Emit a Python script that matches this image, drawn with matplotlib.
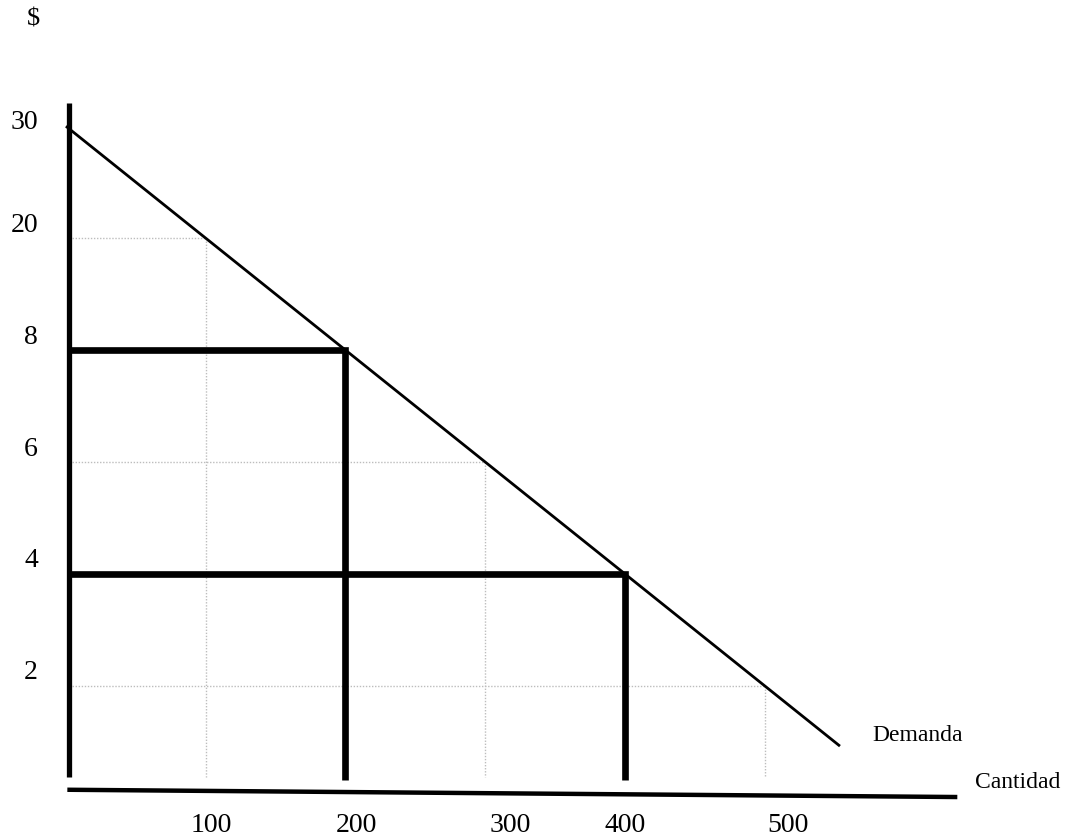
import numpy as np
import matplotlib
matplotlib.use("Agg")
import matplotlib.pyplot as plt

# data: price and quantity levels as labelled on the axes
price_ticks = [2, 4, 6, 8, 20, 30]
qty_ticks = [100, 200, 300, 400, 500]

# demand curve passes through these (quantity, price) pairs
demand_q = [0, 100, 200, 300, 400, 500]
demand_p = [30, 20, 8, 6, 4, 2]

# the two price levels drawn with bold lines and the quantity demanded
bold_p = [8, 4]
bold_q = [200, 400]

# points on the demand curve dropped to the axes with dotted guides
guide_q = [100, 300, 500]
guide_p = [20, 6, 2]

# the axis labels are not to scale, so each level sits at an even step
ppos = {v: i + 1 for i, v in enumerate(price_ticks)}
qpos = {v: i + 1 for i, v in enumerate(qty_ticks)}
qpos[0] = 0

plt.rcParams['font.family'] = ['Liberation Serif', 'DejaVu Serif']

fig = plt.figure(figsize=(10.73, 8.4), dpi=100)
ax = fig.add_axes([0, 0, 1, 1])
ax.set_xlim(-0.472, 7.208)
ax.set_ylim(-0.379, 7.128)
ax.axis('off')

floor = 0.18   # where the verticals stop above the quantity axis

# dotted guides
for q, p in zip(guide_q, guide_p):
    x, y = qpos[q], ppos[p]
    ax.plot([0.02, x], [y, y], color='#bdbdbd', lw=1.0, ls=(0, (1, 1.2)), zorder=1)
    ax.plot([x, x], [y, floor], color='#bdbdbd', lw=1.0, ls=(0, (1, 1.2)), zorder=1)

# demand curve, extended a little past the last labelled quantity
dx = np.array([qpos[q] for q in demand_q], dtype=float)
dy = np.array([ppos[p] for p in demand_p], dtype=float)
slope = (dy[-1] - dy[-2]) / (dx[-1] - dx[-2])
ext = 0.54
dx = np.append(dx, dx[-1] + ext)
dy = np.append(dy, dy[-1] + slope * ext)
ax.plot(dx, dy, color='black', lw=2.0, zorder=3, solid_capstyle='butt')

# bold price lines and the quantities they meet
for p, q in zip(bold_p, bold_q):
    x, y = qpos[q], ppos[p]
    ax.plot([0.02, x, x], [y, y, floor - 0.02], color='black', lw=4.8,
            solid_joinstyle='miter', solid_capstyle='butt', zorder=4)

# hand drawn axes
ax.plot([0.02, 0.02], [0.18, 6.21], color='black', lw=3.8, solid_capstyle='butt', zorder=5)
ax.plot([0.01, 6.38], [0.07, 0.005], color='black', lw=3.2, solid_capstyle='butt', zorder=5)

# tick labels
for p in price_ticks:
    yoff = 0.03 if p == 30 else 0.115
    ax.text(-0.2, ppos[p] + yoff, str(p), ha='right', va='center', fontsize=20)

xlab_nudge = [0.04, 0.08, 0.18, 0.0, 0.17]
for q, n in zip(qty_ticks, xlab_nudge):
    ax.text(qpos[q] + n, -0.25, str(q), ha='center', va='center', fontsize=20)

ax.text(-0.236, 6.95, '$', ha='center', va='center', fontsize=19)
ax.text(5.77, 0.51, 'Demanda', ha='left', va='baseline', fontsize=17)
ax.text(6.51, 0.09, 'Cantidad', ha='left', va='baseline', fontsize=17)

fig.savefig('out.png', dpi=100, facecolor='white')
